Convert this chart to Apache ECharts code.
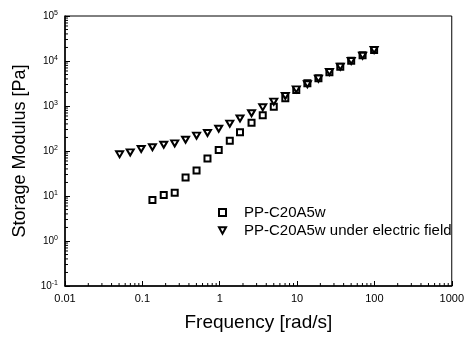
<!DOCTYPE html>
<html>
<head>
<meta charset="utf-8">
<script src="https://cdn.jsdelivr.net/npm/echarts@6/dist/echarts.min.js"></script>
<style>
  html, body { margin: 0; padding: 0; background: #fff; }
  #chart { width: 467px; height: 337px; }
</style>
</head>
<body>
<div id="chart"></div>
<script>
// frequency [rad/s] and storage modulus [Pa]
var freqPlain = [0.135, 0.189, 0.262, 0.362, 0.502, 0.695, 0.971, 1.35, 1.83, 2.58, 3.6,
    5.0, 7.05, 9.77, 13.6, 18.9, 26.2, 36.2, 50.1, 70.3, 99.1];
var modPlain = [8.2, 10.5, 11.8, 25.8, 36.9, 68, 105, 169, 260, 426, 621,
    965, 1480, 2270, 3200, 4120, 5610, 7470, 10150, 13400, 17550];

var freqField = [0.0508, 0.0697, 0.0966, 0.135, 0.189, 0.262, 0.362, 0.502, 0.695, 0.971, 1.35, 1.83,
    2.58, 3.6, 5.0, 7.05, 9.77, 13.6, 18.9, 26.2, 36.2, 50.1, 70.3, 99.1];
var modField = [84.5, 93.5, 111, 121, 138, 148, 178, 219, 251, 313, 405, 527,
    689, 936, 1250, 1670, 2350, 3040, 4050, 5700, 7470, 10000, 13100, 17550];

var seriesNames = ['PP-C20A5w', 'PP-C20A5w under electric field'];
var xRange = [0.01, 1000];
var yRange = [0.1, 100000];

var downTriangle = 'path://M0,0 L10,0 L5,9 Z';

function pairs(xs, ys) {
    var out = [];
    for (var i = 0; i < xs.length; i++) out.push([xs[i], ys[i]]);
    return out;
}

// minor tick positions 2..9 x 10^k inside a range
function minorVals(lo, hi) {
    var out = [];
    for (var p = Math.round(Math.log10(lo)); p < Math.round(Math.log10(hi)); p++) {
        for (var m = 2; m <= 9; m++) out.push(m * Math.pow(10, p));
    }
    return out;
}

var font = 'Liberation Sans, Arial, sans-serif';
var markStyle = { color: '#fff', borderColor: '#000', borderWidth: 2, opacity: 1 };

var chart = echarts.init(document.getElementById('chart'));
var option = {
    backgroundColor: '#fff',
    animation: false,
    grid: {
        left: 65, right: 12, top: 16, bottom: 50,
        show: true, borderColor: '#000', borderWidth: 1
    },
    legend: {
        orient: 'vertical',
        left: 213,
        top: 200,
        itemWidth: 7,
        itemHeight: 7,
        itemGap: 3,
        data: [
            { name: seriesNames[0], icon: 'rect' },
            { name: seriesNames[1], icon: downTriangle }
        ],
        itemStyle: { color: '#fff', borderColor: '#000', borderWidth: 2 },
        textStyle: { fontFamily: font, fontSize: 15, color: '#000', lineHeight: 15, padding: [0, 0, 0, 13] }
    },
    xAxis: {
        type: 'log',
        logBase: 10,
        min: xRange[0],
        max: xRange[1],
        name: 'Frequency [rad/s]',
        nameLocation: 'middle',
        nameGap: 27,
        nameTextStyle: { fontFamily: font, fontSize: 19, color: '#000' },
        axisLine: { lineStyle: { color: '#000', width: 1.5 } },
        axisTick: { inside: true, length: 5, lineStyle: { color: '#000' } },
        splitLine: { show: false },
        axisLabel: {
            fontFamily: font, fontSize: 11, color: '#000', margin: 7,
            formatter: function (v) { return String(+v.toPrecision(3)); }
        }
    },
    yAxis: {
        type: 'log',
        logBase: 10,
        min: yRange[0],
        max: yRange[1],
        name: 'Storage Modulus [Pa]',
        nameLocation: 'middle',
        nameGap: 36,
        nameTextStyle: { fontFamily: font, fontSize: 18, color: '#000' },
        axisLine: { lineStyle: { color: '#000', width: 1.5 } },
        axisTick: { inside: true, length: 5, lineStyle: { color: '#000' } },
        splitLine: { show: false },
        axisLabel: {
            margin: 7,
            formatter: function (v) {
                return '{b|10}{s|' + Math.round(Math.log10(v)) + '}';
            },
            rich: {
                b: { fontFamily: font, fontSize: 10, color: '#000' },
                s: { fontFamily: font, fontSize: 7, color: '#000', padding: [0, 0, 6, 0] }
            }
        }
    },
    series: [
        {
            name: seriesNames[0],
            type: 'scatter',
            data: pairs(freqPlain, modPlain),
            symbol: 'rect',
            symbolSize: 6,
            itemStyle: markStyle
        },
        {
            name: seriesNames[1],
            type: 'scatter',
            data: pairs(freqField, modField),
            symbol: downTriangle,
            symbolSize: [7, 6],
            itemStyle: markStyle
        },
        {
            type: 'custom',
            silent: true,
            data: minorVals(xRange[0], xRange[1]),
            renderItem: function (params, api) {
                var p = api.coord([api.value(0), yRange[0]]);
                return { type: 'line', shape: { x1: p[0], y1: p[1], x2: p[0], y2: p[1] - 3 },
                    style: { stroke: '#000', lineWidth: 1 } };
            },
            encode: { x: 0 }
        },
        {
            type: 'custom',
            silent: true,
            data: minorVals(yRange[0], yRange[1]).map(function (v) { return [xRange[0], v]; }),
            renderItem: function (params, api) {
                var p = api.coord([xRange[0], api.value(1)]);
                return { type: 'line', shape: { x1: p[0], y1: p[1], x2: p[0] + 3, y2: p[1] },
                    style: { stroke: '#000', lineWidth: 1 } };
            },
            encode: { x: 0, y: 1 }
        }
    ]
};
chart.setOption(option);
window.addEventListener('resize', chart.resize);
</script>
</body>
</html>
